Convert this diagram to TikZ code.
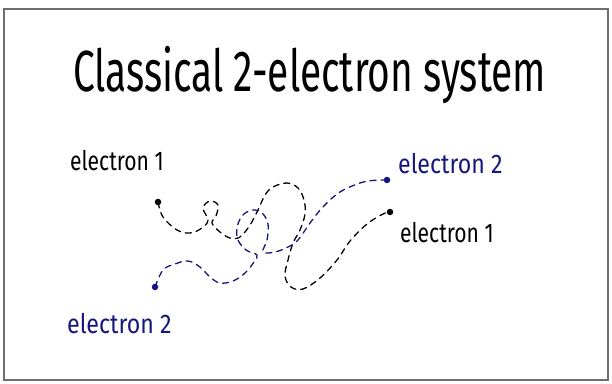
\documentclass[tikz,border=0pt]{standalone}
\usepackage{fontspec}
\setmainfont{Fira Sans}
\definecolor{navyink}{RGB}{22,22,125}
\definecolor{framegray}{RGB}{110,110,110}
\begin{document}
\begin{tikzpicture}[x=1pt,y=-1pt,
  dot/.style={circle,fill,inner sep=0pt,minimum size=6.5pt},
  lab/.style={font=\fontsize{27}{30}\selectfont,xscale=0.78,anchor=base west,inner sep=0pt},
  labtwo/.style={lab,xscale=1.1,navyink},
  traj/.style={line width=1.3pt,dash pattern=on 6pt off 5pt,line cap=round}]
\useasboundingbox (0,0) rectangle (612,383);
\fill[white] (0,0) rectangle (612,383);
\draw[framegray,line width=2.8pt] (4,9) rectangle (608,380);
% title
\node[font=\fontsize{58}{60}\selectfont,xscale=0.67,anchor=base west,inner sep=0pt] (title) at (73,91) {Classical 2-electron system};
% labels
\node[lab] (l1) at (70,170) {electron 1};
\node[labtwo] (l2) at (398,173) {electron 2};
\node[lab] (r1) at (400,242) {electron 1};
\node[labtwo] (r2) at (67,333) {electron 2};
% dots
\node[dot] (e1a) at (158,202) {};
\node[dot] (e1b) at (390,212) {};
\node[dot,navyink] (e2a) at (155,287) {};
\node[dot,navyink] (e2b) at (387,180) {};
% electron 1 trajectory
\draw[traj] plot[smooth,tension=0.6] coordinates {(e1a.center) (163,217) (177,230) (190,233) (202,228) (208,220) (203,208) (210,201) (218,205) (216,216) (212,223) (220,232) (230,238) (240,237) (250,225) (258,210) (265,195) (273,187) (287,183) (298,188) (304,200) (305,214) (300,230) (293,243) (288,260) (285,276) (291,287) (303,289) (320,278) (337,260) (350,241) (367,224) (383,214) (e1b.center)};
% electron 2 trajectory
\draw[traj,navyink] plot[smooth,tension=0.6] coordinates {(e2a.center) (163,270) (175,264) (188,261) (200,267) (210,277) (220,283) (233,281) (245,273) (254,262) (257,255) (246,250) (238,240) (237,228) (242,216) (252,210) (262,213) (268,224) (267,240) (263,252) (275,252) (288,247) (298,240) (310,223) (322,208) (337,194) (352,186) (368,181) (e2b.center)};
\end{tikzpicture}
\end{document}
